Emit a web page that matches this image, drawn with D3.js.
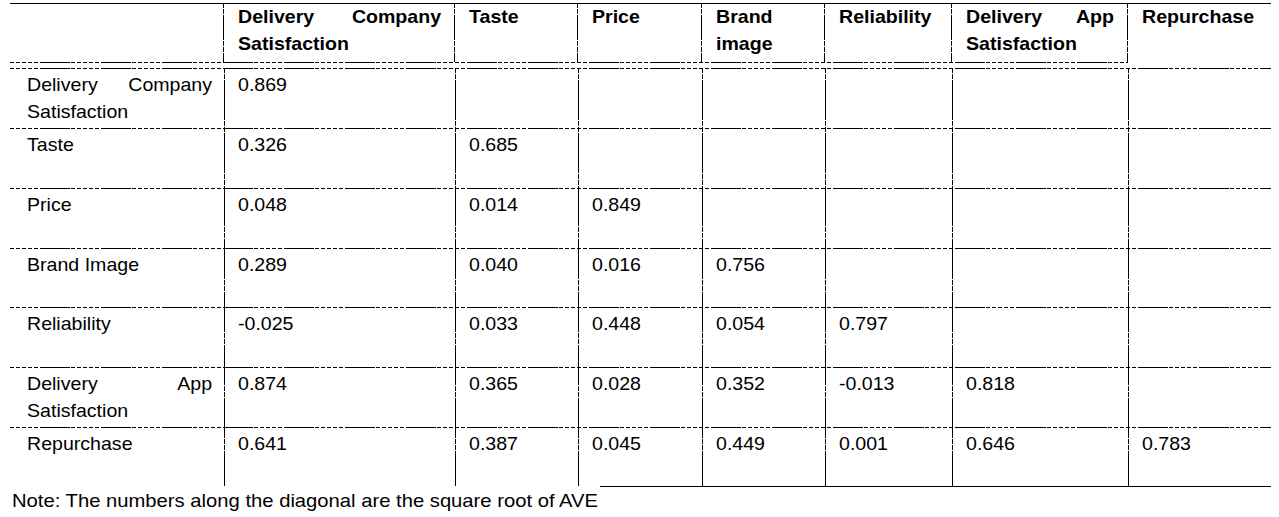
<!DOCTYPE html>
<html>
  <head>
    <meta charset="utf-8">
    <title>Discriminant validity</title>
    <script src="https://d3js.org/d3.v7.min.js"></script>
    <style>
    body{margin:0; background:white;}
    svg{display:block; background:white;}
    text{font-family:"Liberation Sans", Arial, sans-serif; font-size:17.8px; fill:#000;}
    .hd{font-weight:bold;}
    line{stroke:#000; stroke-width:1; shape-rendering:crispEdges;}
    </style>
  </head>
  <body>
    <script>
    // column headers / row labels
    var colLabels = ["Delivery Company Satisfaction", "Taste", "Price", "Brand image", "Reliability", "Delivery App Satisfaction", "Repurchase"];
    var rowLabels = ["Delivery Company Satisfaction", "Taste", "Price", "Brand Image", "Reliability", "Delivery App Satisfaction", "Repurchase"];

    // lower triangle of the correlation matrix (diagonal = sqrt of AVE)
    var corr = [
      ["0.869"],
      ["0.326", "0.685"],
      ["0.048", "0.014", "0.849"],
      ["0.289", "0.040", "0.016", "0.756"],
      ["-0.025", "0.033", "0.448", "0.054", "0.797"],
      ["0.874", "0.365", "0.028", "0.352", "-0.013", "0.818"],
      ["0.641", "0.387", "0.045", "0.449", "0.001", "0.646", "0.783"]
    ];
    var note = "Note: The numbers along the diagonal are the square root of AVE";

    var width = 1279, height = 517;
    var sx = 1.1;   // text in the source is a bit stretched sideways
    var dash = "4,2,4,2,4,2,4,2,4,2,30,1";

    var svg = d3.select("body").append("svg").attr("width", width).attr("height", height);

    // column edges (label column + 7 value columns)
    var edges = [10, 224, 455, 578, 702, 825, 952, 1128, 1271];
    var colX = d3.scaleOrdinal().domain(d3.range(8)).range(edges.slice(0, 8));
    var colR = d3.scaleOrdinal().domain(d3.range(8)).range(edges.slice(1));

    // rows
    var headTop = 3, headBot = 62;
    var y = d3.scaleBand().domain(d3.range(rowLabels.length)).range([68, 487]);

    // text helper: wraps words into width w, justifies all but last line
    function cellText(g, str, x0, w, yb, cls){
      var words = str.split(" ");
      var lines = [], cur = [];
      var tmp = g.append("text").attr("class", cls);
      function measure(s){ tmp.text(s); return tmp.node().getComputedTextLength() * sx; }
      words.forEach(function(wd){
        var test = cur.concat([wd]).join(" ");
        if (cur.length && measure(test) > w) { lines.push(cur); cur = [wd]; }
        else cur.push(wd);
      });
      lines.push(cur);
      lines.forEach(function(ln, i){
        var yy = yb + i * 27;
        if (i < lines.length - 1 && ln.length > 1) {
          var ws = ln.map(measure);
          var gap = (w - d3.sum(ws)) / (ln.length - 1);
          var xx = x0;
          ln.forEach(function(wd, k){
            g.append("text").attr("class", cls)
              .attr("transform", "translate(" + xx + "," + yy + ") scale(" + sx + ",1)")
              .text(wd);
            xx += ws[k] + gap;
          });
        } else {
          g.append("text").attr("class", cls)
            .attr("transform", "translate(" + x0 + "," + yy + ") scale(" + sx + ",1)")
            .text(ln.join(" "));
        }
      });
      tmp.remove();
    }

    var grid = svg.append("g");
    // top rule
    grid.append("line").attr("x1", 10).attr("x2", 1271).attr("y1", headTop + 0.5).attr("y2", headTop + 0.5);
    // header bottom rule
    grid.append("line").attr("x1", 10).attr("x2", 1128).attr("y1", headBot + 0.5).attr("y2", headBot + 0.5)
      .attr("stroke-dasharray", dash);
    // header verticals
    grid.selectAll(".hv").data(d3.range(1, 8)).enter().append("line")
      .attr("x1", function(d){ return colX(d) - 0.5; }).attr("x2", function(d){ return colX(d) - 0.5; })
      .attr("y1", headTop).attr("y2", headBot)
      .attr("stroke-dasharray", "5,1,5,1,25,1");
    // body row rules
    grid.selectAll(".hr").data(d3.range(rowLabels.length)).enter().append("line")
      .attr("x1", 10).attr("x2", 1271)
      .attr("y1", function(d){ return Math.round(y(d)) + 0.5; })
      .attr("y2", function(d){ return Math.round(y(d)) + 0.5; })
      .attr("stroke-dasharray", dash);
    // bottom rule, partly hidden behind the note
    grid.append("line").attr("x1", 600).attr("x2", 1271).attr("y1", 486.5).attr("y2", 486.5);
    // body verticals
    grid.selectAll(".bv").data(d3.range(1, 8)).enter().append("line")
      .attr("x1", function(d){ return colX(d) + 0.5; }).attr("x2", function(d){ return colX(d) + 0.5; })
      .attr("y1", 68).attr("y2", 486)
      .attr("stroke-dasharray", "5,1,5,1,40,1");

    // header
    var head = svg.append("g");
    colLabels.forEach(function(lab, i){
      var c = i + 1;
      cellText(head, lab, colX(c) + 14, colR(c) - colX(c) - 28, headTop + 20, "hd");
    });

    // row labels and values
    var body = svg.append("g");
    rowLabels.forEach(function(lab, r){
      var yb = Math.round(y(r)) + 23;
      cellText(body, lab, 27, 185, yb, "");
      corr[r].forEach(function(v, c){
        body.append("text")
          .attr("transform", "translate(" + (colX(c + 1) + 14) + "," + yb + ") scale(" + sx + ",1)")
          .text(v);
      });
    });

    // note
    svg.append("text").attr("x", 12).attr("y", 507)
      .attr("textLength", 586).attr("lengthAdjust", "spacingAndGlyphs")
      .text(note);
    </script>
  </body>
</html>
